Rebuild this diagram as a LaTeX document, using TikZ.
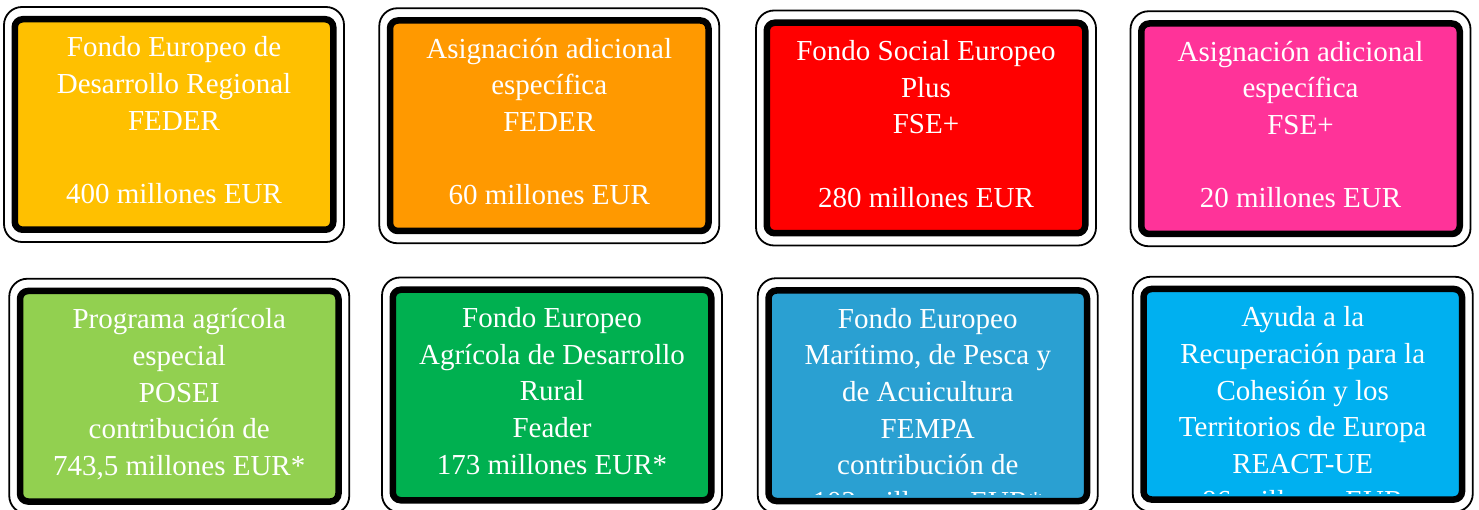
\documentclass[tikz,border=0pt]{standalone}
\usepackage{fontspec}
\setmainfont{Liberation Serif}
\usetikzlibrary{positioning}

\definecolor{federgold}{HTML}{FFC000}
\definecolor{federorange}{HTML}{FF9900}
\definecolor{fsered}{HTML}{FF0000}
\definecolor{fsepink}{HTML}{FF3399}
\definecolor{poseigreen}{HTML}{92D050}
\definecolor{feadergreen}{HTML}{00B050}
\definecolor{fempablue}{HTML}{2AA0D2}
\definecolor{reactblue}{HTML}{00B0F0}

\begin{document}
\begin{tikzpicture}[x=1pt, y=1pt,
    outerframe/.style={draw=black, fill=white, line width=1.8pt, rounded corners=18pt,
        minimum width=340pt, minimum height=235pt, inner sep=0pt},
    fundbox/.style={draw=black, line width=6.5pt, rounded corners=8pt,
        minimum width=318.5pt, minimum height=210.5pt, inner sep=0pt},
    fundtext/.style={text=white, align=center, inner sep=0pt,
        font=\fontsize{29}{36.7}\selectfont}]
    % Page size of the reference
    \clip (0,0) rectangle (1479,509);

    % Top row: FEDER and FSE+
    \node[outerframe] (o1) at (174,384.5) {};
    \node[fundbox, fill=federgold] (b1) at (o1.center) {};
    \node[fundtext, below=15pt of b1.north] (t1)
        {\strut Fondo Europeo de\\Desarrollo Regional\\FEDER\\[36.7pt]400 millones EUR};

    \node[outerframe] (o2) at (549.25,383.25) {};
    \node[fundbox, fill=federorange] (b2) at (o2.center) {};
    \node[fundtext, below=15pt of b2.north] (t2)
        {\strut Asignación adicional\\específica\\FEDER\\[36.7pt]60 millones EUR};

    \node[outerframe] (o3) at (926,381) {};
    \node[fundbox, fill=fsered] (b3) at (o3.center) {};
    \node[fundtext, below=15pt of b3.north] (t3)
        {\strut Fondo Social Europeo\\Plus\\FSE+\\[36.7pt]280 millones EUR};

    \node[outerframe] (o4) at (1300.5,380.25) {};
    \node[fundbox, fill=fsepink] (b4) at (o4.center) {};
    \node[fundtext, below=15pt of b4.north] (t4)
        {\strut Asignación adicional\\específica\\FSE+\\[36.7pt]20 millones EUR};

    % Bottom row: POSEI, Feader, FEMPA and REACT-UE
    \node[outerframe] (o5) at (179.25,112.75) {};
    \node[fundbox, fill=poseigreen] (b5) at (o5.center) {};
    \node[fundtext, below=15pt of b5.north] (t5)
        {\strut Programa agrícola\\especial\\POSEI\\contribución de\\743,5 millones EUR*};

    \node[outerframe] (o6) at (552,114) {};
    \node[fundbox, fill=feadergreen] (b6) at (o6.center) {};
    \node[fundtext, below=15pt of b6.north] (t6)
        {\strut Fondo Europeo\\Agrícola de Desarrollo\\Rural\\Feader\\173 millones EUR*};

    \node[outerframe] (o7) at (927.75,113.25) {};
    \node[fundbox, fill=fempablue] (b7) at (o7.center) {};
    \begin{scope}
        % last line is cut off by the box
        \clip (b7.north west) rectangle ([yshift=9.5pt]b7.south east);
        \node[fundtext, below=15pt of b7.north] (t7)
            {\strut Fondo Europeo\\Marítimo, de Pesca y\\de Acuicultura\\FEMPA\\contribución de\\102 millones EUR*};
    \end{scope}

    \node[outerframe] (o8) at (1302.75,114.75) {};
    \node[fundbox, fill=reactblue] (b8) at (o8.center) {};
    \begin{scope}
        \clip (b8.north west) rectangle ([yshift=9.5pt]b8.south east);
        \node[fundtext, below=15pt of b8.north] (t8)
            {\strut Ayuda a la\\Recuperación para la\\Cohesión y los\\Territorios de Europa\\REACT-UE\\86 millones EUR};
    \end{scope}
\end{tikzpicture}
\end{document}
